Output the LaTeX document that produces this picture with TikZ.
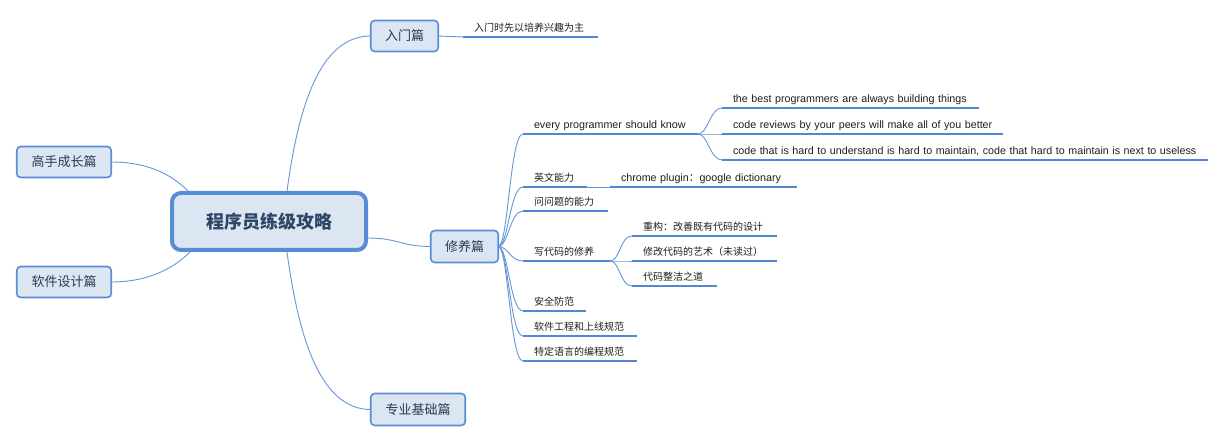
\documentclass[tikz,border=0pt]{standalone}
\usepackage{fontspec}
\setmainfont{Liberation Sans}
\newfontfamily\cjk{Noto Sans CJK SC}
\newcommand\zhsmall{\cjk\fontsize{10}{10}\selectfont}
\definecolor{mborder}{RGB}{88,140,212}
\definecolor{mfill}{RGB}{220,230,242}
\definecolor{mline}{RGB}{100,150,216}
\definecolor{mul}{RGB}{82,136,210}
\definecolor{mtext}{RGB}{42,58,82}
\definecolor{ctext}{RGB}{46,70,104}
\definecolor{ltext}{RGB}{30,30,30}
\begin{document}
\begin{tikzpicture}[x=1pt,y=-1pt,
  topic/.style={draw=mborder, fill=mfill, line width=1.6pt, rounded corners=4pt,
    minimum height=31pt, inner sep=0pt, outer sep=0pt, text=mtext,
    font=\cjk\fontsize{13}{13}\selectfont},
  central/.style={draw=mborder, fill=mfill, line width=4pt, rounded corners=9pt,
    minimum width=194pt, minimum height=57pt, inner sep=0pt, text=ctext,
    font=\cjk\bfseries\fontsize{18}{18}\selectfont},
  leaf/.style={anchor=south west, inner xsep=11pt, inner ysep=3.2pt, outer sep=0pt,
    text width=#1, align=left, text height=7.5pt, text depth=2.5pt,
    font=\fontsize{10.7}{10.7}\selectfont, text=ltext},
  conn/.style={draw=mline, line width=0.9pt},
  ul/.style={draw=mul, line width=2.8pt},
]
\useasboundingbox (0,0) rectangle (1226,443);

% main topics
\node[central] (root) at (269,221.5) {程序员练级攻略};
\node[topic, minimum width=94.5pt] (gaoshou) at (64,162) {高手成长篇};
\node[topic, minimum width=94.5pt] (ruanjian) at (64,282) {软件设计篇};
\node[topic, minimum width=67.5pt] (rumen) at (404.5,36) {入门篇};
\node[topic, minimum width=67.5pt, minimum height=32pt] (xiuyang) at (464.5,246.5) {修养篇};
\node[topic, minimum width=94.5pt, minimum height=32pt] (zhuanye) at (418,409.5) {专业基础篇};

% leaves
\node[leaf=113pt] (l0) at (463,37) {\zhsmall 入门时先以培养兴趣为主};
\node[leaf=153pt] (every) at (523,134) {\mbox{every programmer should know}};
\node[leaf=42pt] (yingwen) at (523,187) {\zhsmall 英文能力};
\node[leaf=165pt] (chrome) at (610,187) {\mbox{chrome plugin{\cjk ：}google dictionary}};
\node[leaf=63pt] (wenti) at (523,211) {\zhsmall 问问题的能力};
\node[leaf=65pt] (xie) at (523,261) {\zhsmall 写代码的修养};
\node[leaf=41pt] (anquan) at (523,311) {\zhsmall 安全防范};
\node[leaf=92pt] (gongcheng) at (523,336) {\zhsmall 软件工程和上线规范};
\node[leaf=92pt] (yuyan) at (523,361) {\zhsmall 特定语言的编程规范};
\node[leaf=235pt] (best) at (722,108) {\mbox{the best programmers are always building things}};
\node[leaf=259pt] (review) at (722,134) {\mbox{code reviews by your peers will make all of you better}};
\node[leaf=464pt] (hard) at (722,160) {\mbox{code that is hard to understand is hard to maintain, code that hard to maintain is next to useless}};
\node[leaf=123pt] (chonggou) at (632,236) {\zhsmall 重构：改善既有代码的设计};
\node[leaf=123pt] (xiugai) at (632,261) {\zhsmall 修改代码的艺术（未读过）};
\node[leaf=63pt] (zhengjie) at (632,286) {\zhsmall 代码整洁之道};

\foreach \n in {l0,every,yingwen,chrome,wenti,xie,anquan,gongcheng,yuyan,best,review,hard,chonggou,xiugai,zhengjie}
  \draw[ul] (\n.south west) -- (\n.south east);

% connectors from root
\draw[conn] ([xshift=18pt]root.north) .. controls +(11,-81) and +(-52,0) .. (rumen.west);
\draw[conn] ([xshift=18pt]root.south) .. controls +(11,81) and +(-52,0) .. (zhuanye.west);
\draw[conn] ([yshift=-16.5pt]root.east) .. controls +(30,0) and +(-30,0) .. (xiuyang.west);
\draw[conn] (gaoshou.east) .. controls +(40,0) and +(-14,-14) .. ([xshift=18pt]root.north west);
\draw[conn] (ruanjian.east) .. controls +(40,0) and +(-14,14) .. ([xshift=20pt]root.south west);

% sub connectors
\draw[conn] (rumen.east) -- (l0.south west);
\foreach \c in {every,yingwen,wenti,xie,anquan,gongcheng,yuyan}
  \draw[conn] (xiuyang.east) .. controls +(10,0) and +(-13,0) .. (\c.south west);
\foreach \c in {best,review,hard}
  \draw[conn] (every.south east) .. controls +(10,0) and +(-12,0) .. (\c.south west);
\foreach \c in {chonggou,xiugai,zhengjie}
  \draw[conn] (xie.south east) .. controls +(10,0) and +(-12,0) .. (\c.south west);
\draw[conn] (yingwen.south east) -- (chrome.south west);
\end{tikzpicture}
\end{document}
